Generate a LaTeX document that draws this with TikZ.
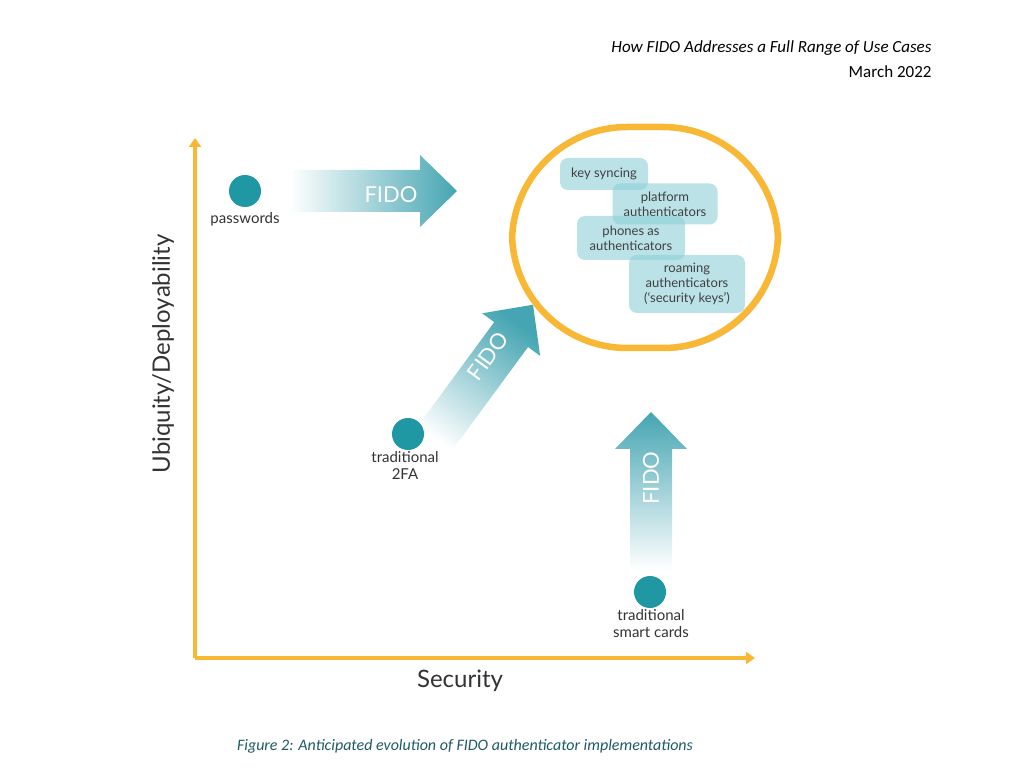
\documentclass[tikz,border=0pt]{standalone}
\usepackage{fontspec}
\setmainfont{Lato}
\newfontfamily\calibri{Carlito}
\usetikzlibrary{arrows.meta,shadows,positioning}
\definecolor{axisorange}{HTML}{F8B835}
\definecolor{fidoteal}{HTML}{45A5B2}
\definecolor{dotteal}{HTML}{1F98A4}
\definecolor{boxteal}{HTML}{8DD0D8}
\definecolor{captionteal}{HTML}{1E5A66}
\tikzset{
  case/.style={circle,fill=dotteal,minimum size=32pt,inner sep=0pt},
  caselabel/.style={align=center,font=\fontsize{15}{17}\selectfont,text=black!80},
  usecase/.style={rounded corners=8pt,fill=boxteal,fill opacity=0.6,text opacity=1,
    align=center,inner sep=0pt,font=\fontsize{13}{15}\selectfont,text=black!75},
  fidotext/.style={text=white,font=\fontsize{22}{24}\selectfont}
}
% tail point, visual angle, length, shading angle
\newcommand{\fidoarrow}[4]{%
  \begin{scope}[shift={#1},rotate=#2]
    \shade[top color=fidoteal,bottom color=white,shading angle=#4]
      (0,-21) -- (#3-37,-21) -- (#3-37,-36) -- (#3,0) -- (#3-37,36)
      -- (#3-37,21) -- (0,21) -- cycle;
  \end{scope}}
\begin{document}
\begin{tikzpicture}[x=1pt,y=1pt]
  \useasboundingbox (0,0) rectangle (1024,774);

  % header
  \node[anchor=east,font=\calibri\itshape\fontsize{17}{19}\selectfont] (title) at (935,726) {How FIDO Addresses a Full Range of Use Cases};
  \node[anchor=east,font=\calibri\fontsize{17}{19}\selectfont] (date) at (935,702) {March 2022};

  % axes
  \coordinate (origin) at (195,116);
  \coordinate (ytop) at (195,636);
  \coordinate (xend) at (755,116);
  \draw[axisorange,line width=3.5pt,-{Triangle[length=9pt,width=12pt]}] (origin) -- (ytop);
  \draw[axisorange,line width=3.5pt,-{Triangle[length=9pt,width=12pt]}] (origin) -- (xend);
  \node[font=\fontsize{24}{26}\selectfont,text=black!80] (xlabel) at (460,93) {Security};
  \node[rotate=90,font=\fontsize{24}{26}\selectfont,text=black!80] (ylabel) at (163,420) {Ubiquity/Deployability};

  % target region
  \draw[axisorange,line width=6.5pt,rounded corners=115pt,fill=white,
    drop shadow={shadow xshift=2pt,shadow yshift=-3pt,opacity=0.4}]
    (512,426) rectangle (778,647);
  \node[usecase,minimum width=88pt,minimum height=32pt] (sync) at (604,600) {key syncing};
  \node[usecase,minimum width=105pt,minimum height=41pt] (platform) at (665,570) {platform\\authenticators};
  \node[usecase,minimum width=108pt,minimum height=44pt] (phones) at (631,536) {phones as\\authenticators};
  \node[usecase,minimum width=116pt,minimum height=58pt] (roaming) at (687,490) {roaming\\authenticators\\(‘security keys’)};

  % FIDO arrows
  \fidoarrow{(290,583)}{0}{167}{-90}
  \fidoarrow{(430,329)}{53.7}{174}{-36}
  \fidoarrow{(651,204)}{90}{158}{0}
  \node[fidotext] (fidoa) at (391,579) {FIDO};
  \node[fidotext,rotate=53.7] (fidob) at (488,418) {FIDO};
  \node[fidotext,rotate=90] (fidoc) at (651,296) {FIDO};

  % current authenticators
  \node[case] (passwords) at (245,583) {};
  \node[caselabel,below=2pt of passwords] (pwlabel) {passwords};
  \node[case] (twofa) at (408,340) {};
  \node[caselabel,anchor=north] (twofalabel) at (405,326) {traditional\\2FA};
  \node[case] (smart) at (650,182) {};
  \node[caselabel,anchor=north] (smartlabel) at (651,168) {traditional\\smart cards};

  % caption
  \node[font=\calibri\itshape\fontsize{16}{18}\selectfont,text=captionteal] (caption) at (465,28) {Figure 2: Anticipated evolution of FIDO authenticator implementations};
\end{tikzpicture}
\end{document}
